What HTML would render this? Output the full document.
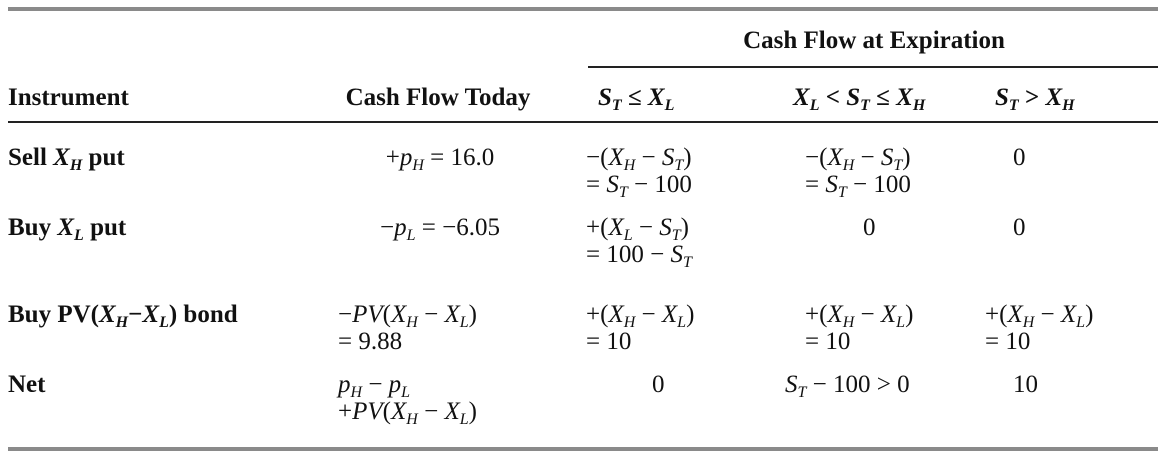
<!DOCTYPE html>
<html><head><meta charset="utf-8"><style>
html,body{margin:0;padding:0;background:#fff;}
body{width:1158px;height:453px;position:relative;overflow:hidden;font-family:"Liberation Serif",serif;color:#111;font-size:25px;}
.t{position:absolute;white-space:nowrap;line-height:27px;}
.b{font-weight:bold;}
.c{transform:translateX(-50%);}
i{font-style:italic;}
sub{font-size:16px;vertical-align:-5px;line-height:0;}
.rule{position:absolute;}
</style></head><body>
<div class="rule" style="left:8px;top:7px;width:1150px;height:4px;background:#8a8a8a"></div>
<div class="rule" style="left:588px;top:66px;width:570px;height:2px;background:#222"></div>
<div class="rule" style="left:8px;top:121px;width:1150px;height:2px;background:#222"></div>
<div class="rule" style="left:8px;top:447px;width:1150px;height:4px;background:#8a8a8a"></div>

<div class="t b c" style="left:874px;top:27px">Cash Flow at Expiration</div>
<div class="t b" style="left:8px;top:84px">Instrument</div>
<div class="t b c" style="left:438px;top:84px">Cash Flow Today</div>
<div class="t b" style="left:598px;top:84px"><i>S</i><sub><i>T</i></sub> ≤ <i>X</i><sub><i>L</i></sub></div>
<div class="t b" style="left:793px;top:84px"><i>X</i><sub><i>L</i></sub> &lt; <i>S</i><sub><i>T</i></sub> ≤ <i>X</i><sub><i>H</i></sub></div>
<div class="t b" style="left:995px;top:84px"><i>S</i><sub><i>T</i></sub> &gt; <i>X</i><sub><i>H</i></sub></div>

<div class="t b" style="left:8px;top:144px">Sell <i>X</i><sub><i>H</i></sub> put</div>
<div class="t c" style="left:440px;top:144px">+<i>p</i><sub><i>H</i></sub> = 16.0</div>
<div class="t" style="left:586px;top:144px">−(<i>X</i><sub><i>H</i></sub> − <i>S</i><sub><i>T</i></sub>)<br>= <i>S</i><sub><i>T</i></sub> − 100</div>
<div class="t" style="left:805px;top:144px">−(<i>X</i><sub><i>H</i></sub> − <i>S</i><sub><i>T</i></sub>)<br>= <i>S</i><sub><i>T</i></sub> − 100</div>
<div class="t" style="left:1013px;top:144px">0</div>

<div class="t b" style="left:8px;top:214px">Buy <i>X</i><sub><i>L</i></sub> put</div>
<div class="t c" style="left:440px;top:214px">−<i>p</i><sub><i>L</i></sub> = −6.05</div>
<div class="t" style="left:586px;top:214px">+(<i>X</i><sub><i>L</i></sub> − <i>S</i><sub><i>T</i></sub>)<br>= 100 − <i>S</i><sub><i>T</i></sub></div>
<div class="t" style="left:863px;top:214px">0</div>
<div class="t" style="left:1013px;top:214px">0</div>

<div class="t b" style="left:8px;top:301px">Buy PV(<i>X</i><sub><i>H</i></sub>−<i>X</i><sub><i>L</i></sub>) bond</div>
<div class="t" style="left:338px;top:301px">−<i>PV</i>(<i>X</i><sub><i>H</i></sub> − <i>X</i><sub><i>L</i></sub>)<br>= 9.88</div>
<div class="t" style="left:586px;top:301px">+(<i>X</i><sub><i>H</i></sub> − <i>X</i><sub><i>L</i></sub>)<br>= 10</div>
<div class="t" style="left:805px;top:301px">+(<i>X</i><sub><i>H</i></sub> − <i>X</i><sub><i>L</i></sub>)<br>= 10</div>
<div class="t" style="left:985px;top:301px">+(<i>X</i><sub><i>H</i></sub> − <i>X</i><sub><i>L</i></sub>)<br>= 10</div>

<div class="t b" style="left:8px;top:371px">Net</div>
<div class="t" style="left:338px;top:371px"><i>p</i><sub><i>H</i></sub> − <i>p</i><sub><i>L</i></sub><br>+<i>PV</i>(<i>X</i><sub><i>H</i></sub> − <i>X</i><sub><i>L</i></sub>)</div>
<div class="t" style="left:652px;top:371px">0</div>
<div class="t" style="left:785px;top:371px"><i>S</i><sub><i>T</i></sub> − 100 &gt; 0</div>
<div class="t" style="left:1013px;top:371px">10</div>
</body></html>
